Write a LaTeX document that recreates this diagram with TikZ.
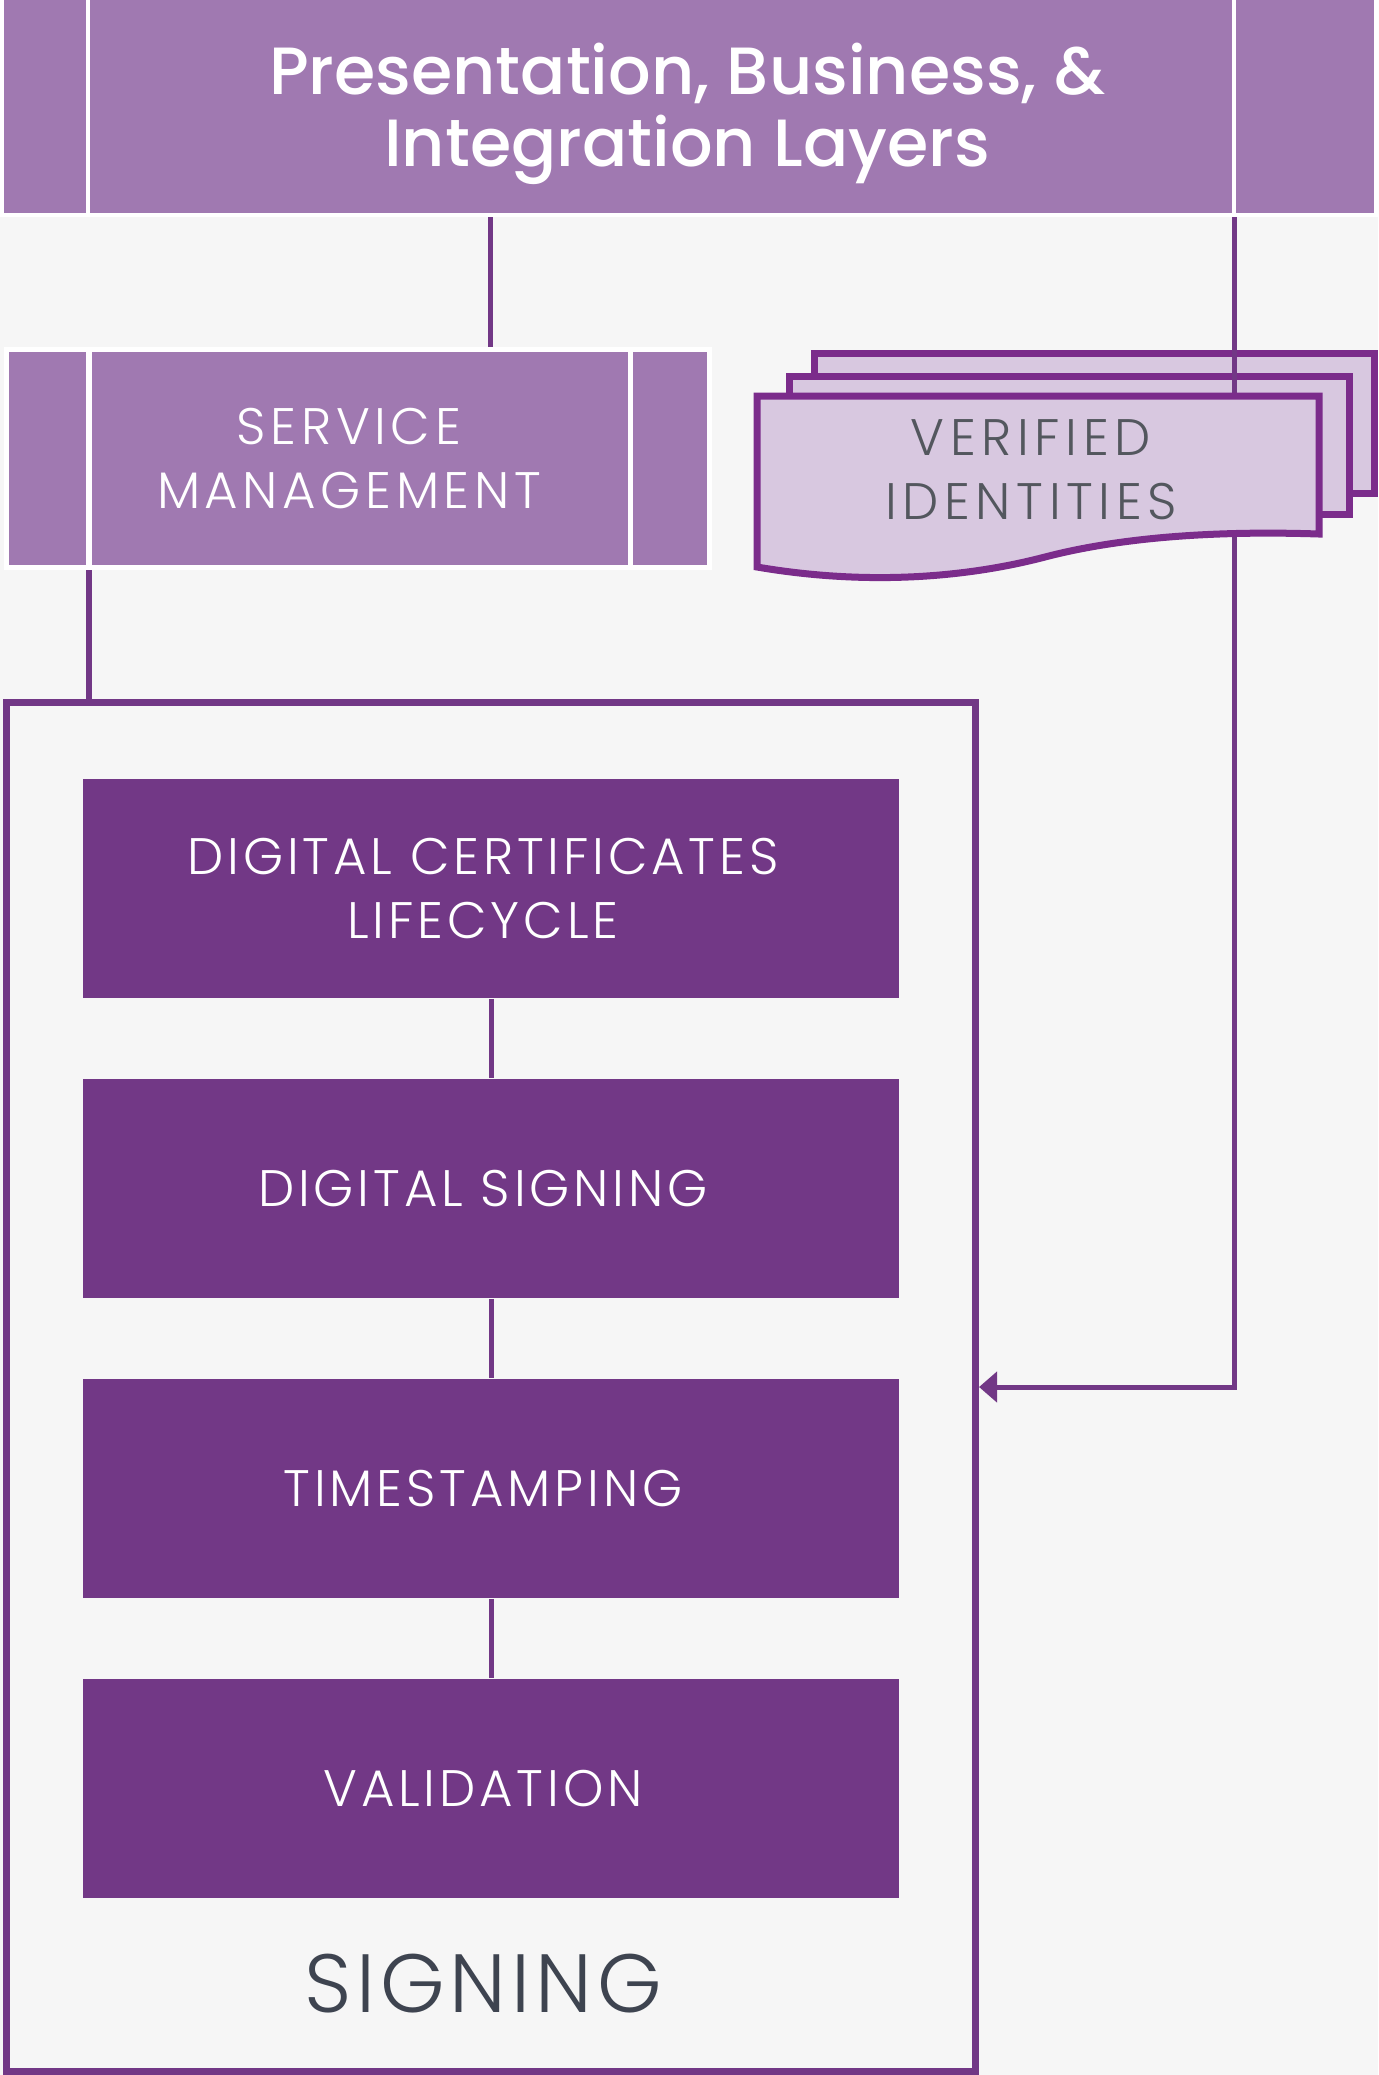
\documentclass[tikz,border=0pt]{standalone}
\usepackage{fontspec}
\setmainfont{Poppins Light}
\newfontfamily\titlefont{Poppins Medium}
\newfontfamily\stagefont{Poppins Light}[LetterSpace=7.5]
\newfontfamily\servfont{Poppins Light}[LetterSpace=9]
\newfontfamily\docfont{Poppins Light}[LetterSpace=11]
\newfontfamily\labelfont{Poppins Light}[LetterSpace=6]
\usetikzlibrary{arrows.meta, positioning}
\definecolor{colBack}{RGB}{246,246,246}
\definecolor{colLight}{RGB}{160,121,177}
\definecolor{colDark}{RGB}{114,56,134}
\definecolor{colDocFill}{RGB}{216,200,224}
\definecolor{colDocLine}{RGB}{123,44,139}
\definecolor{colText}{RGB}{83,87,94}
\definecolor{colTitle}{RGB}{62,68,80}
\tikzset{
    layer/.style={rectangle, draw=white, line width=0.04cm, fill=colLight,
        inner sep=0pt, text=white, align=center},
    boxtext/.style={text=white, align=center, xshift=-0.08cm},
    stage/.style={rectangle, fill=colDark, inner sep=0pt, minimum width=8.16cm,
        minimum height=2.19cm,
        label={[boxtext, font=\stagefont\fontsize{14.6}{18.2}\selectfont]center:#1}},
    doc/.style={draw=colDocLine, fill=colDocFill, line width=0.07cm},
    conn/.style={draw=colDark, line width=0.05cm},
    arrow/.style={conn, -{Triangle[length=0.18cm, width=0.30cm]}}
}

\begin{document}
\begin{tikzpicture}[x=0.01cm, y=-0.01cm, node distance=0.795cm]
    \fill[colBack] (0,0) rectangle (1378,2075);
    \useasboundingbox (0,0) rectangle (1378,2075);

    \coordinate (d1) at (88,0);
    \coordinate (d2) at (1234,0);
    \coordinate (d3) at (490,0);
    \coordinate (d4) at (89,0);
    \coordinate (d5) at (630,0);

    % top bar
    \node[layer, minimum width=13.74cm, minimum height=2.18cm] (layers) at (689,106) {};
    \draw[white, line width=0.04cm] (layers.north -| d1) -- (layers.south -| d1);
    \draw[white, line width=0.04cm] (layers.north -| d2) -- (layers.south -| d2);
    \node[text=white, align=center, font=\titlefont\fontsize{19}{20.5}\selectfont] (layerstext)
        at (687,114) {Presentation, Business, \&\\Integration Layers};

    % service management
    \node[layer, line width=0.05cm, minimum width=7.025cm, minimum height=2.18cm,
        label={[boxtext, xshift=-0.01cm, font=\servfont\fontsize{14.6}{18.2}\selectfont]center:SERVICE\\MANAGEMENT}]
        (service) at (358,458.5) {};
    \draw[white, line width=0.05cm] (service.north -| d4) -- (service.south -| d4);
    \draw[white, line width=0.05cm] (service.north -| d5) -- (service.south -| d5);

    % signing frame
    \node[draw=colDark, line width=0.07cm, fill=colBack, inner sep=0pt,
        minimum width=9.685cm, minimum height=13.68cm] (signing) at (491,1387) {};
    \node[font=\labelfont\fontsize{23.5}{28}\selectfont, text=colTitle] (signlabel) at (483,1984) {SIGNING};

    \node[stage={DIGITAL CERTIFICATES\\LIFECYCLE}] (lifecycle) at (491,888.5) {};
    \node[stage={DIGITAL SIGNING}, below=of lifecycle] (digsign) {};
    \node[stage={TIMESTAMPING}, below=of digsign] (stamp) {};
    \node[stage={VALIDATION}, below=of stamp] (valid) {};

    % verified identities stack
    \draw[doc] (814,353) rectangle (1374,493);
    \draw[doc] (789,376) rectangle (1349,514);

    \draw[conn] (layers.south -| d3) -- (service.north -| d3);
    \draw[conn] (service.south -| d4) -- (signing.north -| d4);
    \draw[arrow] (layers.south -| d2) |- (signing.east);
    \draw[conn] (lifecycle) -- (digsign);
    \draw[conn] (digsign) -- (stamp);
    \draw[conn] (stamp) -- (valid);

    \draw[doc] (757,396) -- (1319,396) -- (1319,534)
        .. controls (1200,530) and (1110,540) .. (1045,557)
        .. controls (980,574) and (880,588) .. (757,567) -- cycle;
    \node[text=colText, align=center, font=\docfont\fontsize{14.6}{18.2}\selectfont] (ident) at (1031,470)
        {VERIFIED\\IDENTITIES};

\end{tikzpicture}
\end{document}
